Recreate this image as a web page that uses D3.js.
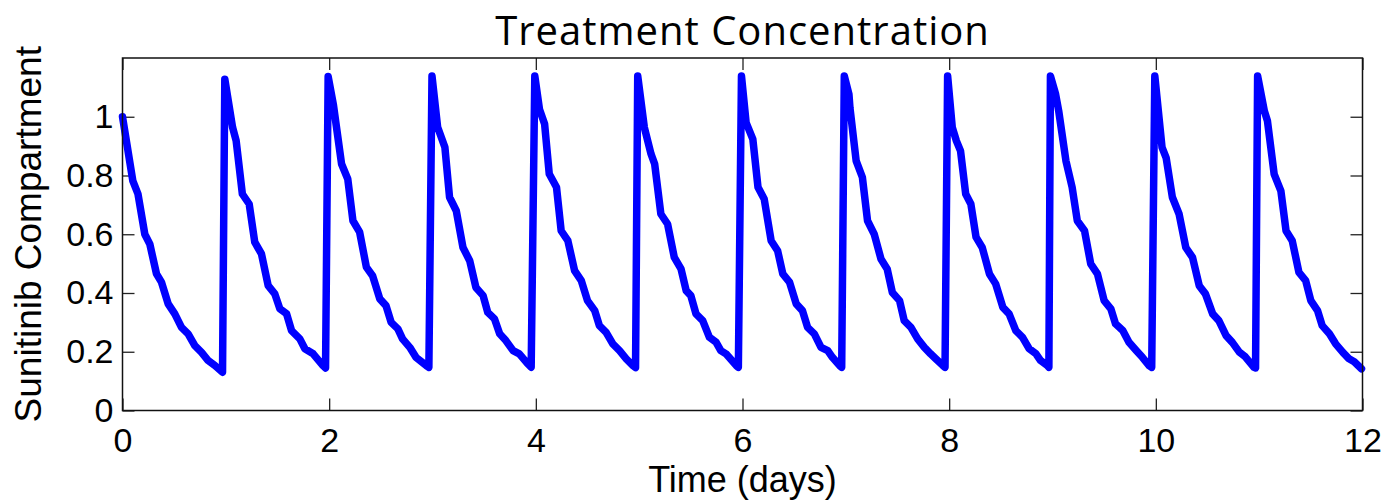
<!DOCTYPE html>
<html>
<head>
<meta charset="utf-8">
<script src="https://cdn.jsdelivr.net/npm/d3@7"></script>
<style>
  body { margin: 0; background: #fff; }
  svg { display: block; }
  .tick-label { font-family: 'Liberation Sans', Arial, sans-serif; fill: #000; }
  .axis-label { font-family: 'Liberation Sans', Arial, sans-serif; fill: #000; }
  .title { font-family: 'Open Sans', sans-serif; fill: #000; }
</style>
</head>
<body>
<svg width="1391" height="502"></svg>
<script>
// Sunitinib compartment, [time (days), level], one array per daily dose
const dose1 = [[0, 1.0], [0.10, 0.782], [0.15, 0.737], [0.216, 0.60], [0.264, 0.567], [0.329, 0.465], [0.377, 0.437],
  [0.442, 0.363], [0.506, 0.329], [0.571, 0.283], [0.635, 0.261], [0.70, 0.221], [0.765, 0.198], [0.829, 0.170],
  [0.894, 0.153], [0.968, 0.130]];
const dose2 = [[0.99, 1.128], [1.065, 0.964], [1.10, 0.918], [1.16, 0.737], [1.226, 0.703], [1.28, 0.573], [1.345, 0.533],
  [1.41, 0.425], [1.474, 0.397], [1.523, 0.346], [1.588, 0.329], [1.636, 0.272], [1.716, 0.244], [1.765, 0.210],
  [1.845, 0.193], [1.94, 0.153], [1.965, 0.145]];
const dose3 = [[1.99, 1.137], [2.04, 1.043], [2.12, 0.839], [2.18, 0.788], [2.23, 0.646], [2.295, 0.607], [2.36, 0.488],
  [2.42, 0.459], [2.49, 0.38], [2.55, 0.357], [2.60, 0.30], [2.665, 0.278], [2.71, 0.244], [2.78, 0.215],
  [2.84, 0.181], [2.94, 0.153], [2.965, 0.147]];
const dose4 = [[2.995, 1.139], [3.05, 0.964], [3.12, 0.896], [3.165, 0.726], [3.23, 0.68], [3.295, 0.555], [3.36, 0.51],
  [3.42, 0.419], [3.49, 0.391], [3.535, 0.334], [3.60, 0.312], [3.65, 0.261], [3.71, 0.238], [3.78, 0.204],
  [3.84, 0.193], [3.91, 0.164], [3.955, 0.147]];
const dose5 = [[3.99, 1.139], [4.035, 1.026], [4.085, 0.975], [4.13, 0.805], [4.20, 0.76], [4.245, 0.612], [4.31, 0.578],
  [4.375, 0.476], [4.44, 0.442], [4.50, 0.374], [4.57, 0.340], [4.615, 0.289], [4.68, 0.266], [4.745, 0.227],
  [4.81, 0.204], [4.875, 0.176], [4.94, 0.153], [4.965, 0.146]];
const dose6 = [[4.986, 1.139], [5.05, 0.964], [5.115, 0.873], [5.15, 0.839], [5.21, 0.669], [5.275, 0.635], [5.34, 0.521],
  [5.405, 0.482], [5.455, 0.408], [5.50, 0.391], [5.55, 0.329], [5.615, 0.306], [5.68, 0.249], [5.745, 0.232],
  [5.79, 0.204], [5.84, 0.193], [5.94, 0.153], [5.96, 0.147]];
const dose7 = [[5.99, 1.139], [6.035, 0.98], [6.10, 0.924], [6.15, 0.76], [6.21, 0.72], [6.277, 0.578], [6.34, 0.544],
  [6.39, 0.465], [6.455, 0.437], [6.52, 0.363], [6.58, 0.340], [6.63, 0.283], [6.695, 0.261], [6.76, 0.215],
  [6.825, 0.204], [6.87, 0.181], [6.94, 0.153], [6.96, 0.147]];
const dose8 = [[6.985, 1.139], [7.03, 1.077], [7.04, 1.03], [7.10, 0.85], [7.16, 0.794], [7.21, 0.646], [7.275, 0.60],
  [7.34, 0.516], [7.40, 0.482], [7.45, 0.402], [7.52, 0.374], [7.565, 0.306], [7.63, 0.283], [7.695, 0.244],
  [7.76, 0.215], [7.82, 0.193], [7.87, 0.176], [7.94, 0.153], [7.96, 0.147]];
const dose9 = [[7.985, 1.139], [8.03, 0.964], [8.07, 0.918], [8.11, 0.884], [8.16, 0.737], [8.21, 0.703], [8.26, 0.590],
  [8.32, 0.555], [8.39, 0.465], [8.45, 0.431], [8.52, 0.351], [8.58, 0.329], [8.645, 0.272], [8.71, 0.249],
  [8.775, 0.21], [8.84, 0.193], [8.885, 0.17], [8.95, 0.153], [8.965, 0.147]];
const dose10 = [[8.98, 1.139], [9.03, 1.077], [9.06, 1.02], [9.13, 0.85], [9.19, 0.76], [9.24, 0.646], [9.31, 0.612],
  [9.37, 0.499], [9.435, 0.465], [9.50, 0.374], [9.565, 0.346], [9.61, 0.295], [9.68, 0.272], [9.74, 0.232],
  [9.81, 0.204], [9.87, 0.181], [9.935, 0.153], [9.96, 0.147]];
const dose11 = [[9.99, 1.139], [10.06, 0.896], [10.10, 0.86], [10.16, 0.726], [10.225, 0.669], [10.29, 0.555], [10.355, 0.521],
  [10.42, 0.425], [10.48, 0.397], [10.55, 0.329], [10.61, 0.306], [10.68, 0.255], [10.74, 0.232], [10.81, 0.198],
  [10.86, 0.185], [10.95, 0.147], [10.965, 0.145]];
const dose12 = [[10.985, 1.139], [11.05, 1.02], [11.08, 0.986], [11.145, 0.805], [11.21, 0.748], [11.26, 0.612], [11.32, 0.578],
  [11.385, 0.47], [11.45, 0.442], [11.5, 0.374], [11.565, 0.34], [11.61, 0.289], [11.68, 0.261], [11.74, 0.227],
  [11.81, 0.198], [11.87, 0.176], [11.92, 0.166], [11.99, 0.142]];

const xTicks = [0, 2, 4, 6, 8, 10, 12];
const yTicks = [0, 0.2, 0.4, 0.6, 0.8, 1];
const xDomain = [0, 12];
const yDomain = [0, 1.2];

const titleText = 'Treatment Concentration';
const xLabelText = 'Time (days)';
const yLabelText = 'Sunitinib Compartment';

// Initialize svg
const svg = d3.select('svg');
const margin = {top: 58, right: 28.5, bottom: 91.5, left: 122.5};
const width = +svg.attr('width') - margin.left - margin.right;
const height = +svg.attr('height') - margin.top - margin.bottom;
const g = svg.append('g').attr('transform', `translate(${margin.left},${margin.top})`);

// Make ranges
const x = d3.scaleLinear().domain(xDomain).range([0, width]);
const y = d3.scaleLinear().domain(yDomain).range([height, 0]);
const line = d3.line()
  .x(d => x(d[0]))
  .y(d => y(d[1]));

const series = [dose1, dose2, dose3, dose4, dose5, dose6, dose7, dose8, dose9, dose10, dose11, dose12].flat();

// Inward ticks on all four sides
const tickLen = 12;
const styleAxis = sel => {
  sel.select('.domain').remove();
  sel.selectAll('.tick line').attr('stroke', '#222').attr('stroke-width', 1.3);
};

g.append('g')
  .attr('transform', `translate(0,${height})`)
  .call(d3.axisBottom(x).tickValues(xTicks).tickSize(-tickLen).tickPadding(17).tickFormat(d3.format('d')))
  .call(styleAxis)
  .call(a => a.selectAll('text').attr('class', 'tick-label').attr('font-size', 34).attr('font-family', null).attr('fill', null));

g.append('g')
  .call(d3.axisTop(x).tickValues(xTicks).tickSize(-tickLen).tickFormat(''))
  .call(styleAxis);

g.append('g')
  .call(d3.axisLeft(y).tickValues(yTicks).tickSize(-tickLen).tickPadding(9).tickFormat(d => String(d)))
  .call(styleAxis)
  .call(a => a.selectAll('text').attr('class', 'tick-label').attr('font-size', 34).attr('font-family', null).attr('fill', null));

g.append('g')
  .attr('transform', `translate(${width},0)`)
  .call(d3.axisRight(y).tickValues(yTicks).tickSize(-tickLen).tickFormat(''))
  .call(styleAxis);

// Draw concentration line
g.append('path')
  .datum(series)
  .attr('fill', 'none')
  .attr('stroke', '#0000ff')
  .attr('stroke-width', 7.5)
  .attr('stroke-linejoin', 'round')
  .attr('stroke-linecap', 'round')
  .attr('d', line);

// Frame
g.append('rect')
  .attr('width', width)
  .attr('height', height)
  .attr('fill', 'none')
  .attr('stroke', '#111')
  .attr('stroke-width', 1.5);

// Labels
svg.append('text')
  .attr('class', 'title')
  .attr('x', margin.left + width / 2)
  .attr('y', 45)
  .attr('text-anchor', 'middle')
  .attr('font-size', 40)
  .attr('letter-spacing', 1)
  .text(titleText);

svg.append('text')
  .attr('class', 'axis-label')
  .attr('x', margin.left + width / 2)
  .attr('y', 492)
  .attr('text-anchor', 'middle')
  .attr('font-size', 36)
  .text(xLabelText);

svg.append('text')
  .attr('class', 'axis-label')
  .attr('transform', `translate(41,${margin.top + height / 2}) rotate(-90)`)
  .attr('text-anchor', 'middle')
  .attr('font-size', 37)
  .text(yLabelText);
</script>
</body>
</html>
